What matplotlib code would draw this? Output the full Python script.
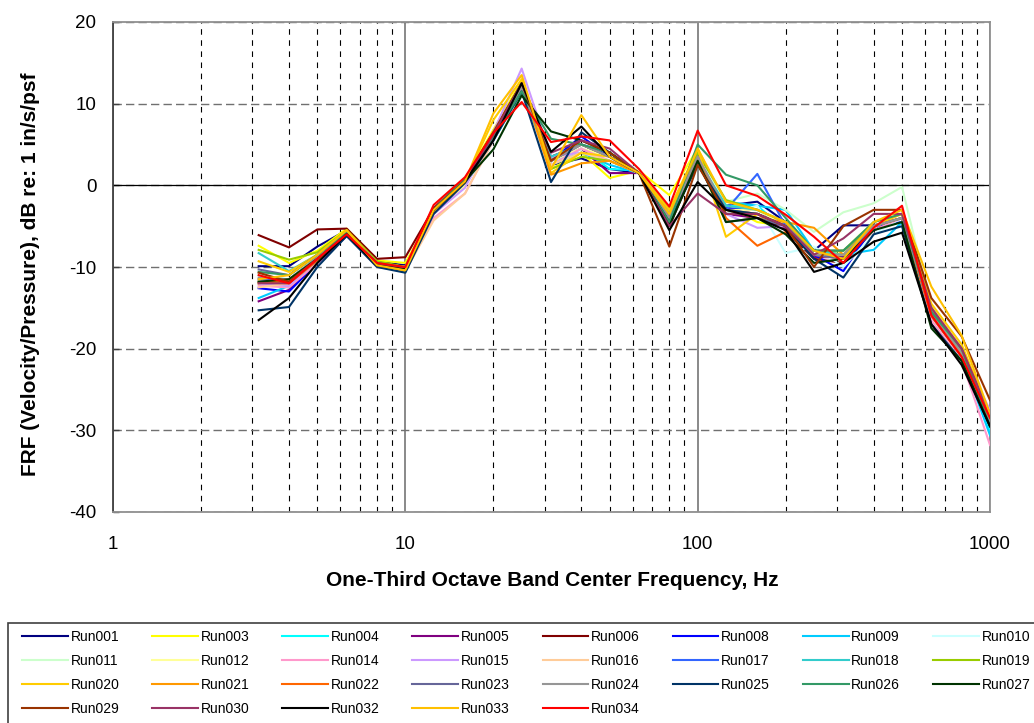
import matplotlib
matplotlib.use("Agg")
import matplotlib.pyplot as plt
from matplotlib.patches import Rectangle
from matplotlib.ticker import FixedLocator, FixedFormatter, NullFormatter

plt.rcParams['font.family'] = ['Liberation Sans', 'DejaVu Sans']

# One-third octave band centre frequencies (Hz)
freqs = [3.15, 4, 5, 6.3, 8, 10, 12.5, 16, 20, 25, 31.5, 40, 50, 63, 80,
         100, 125, 160, 200, 250, 315, 400, 500, 630, 800, 1000]

run_names = ["Run001", "Run003", "Run004", "Run005", "Run006", "Run008", "Run009", "Run010",
             "Run011", "Run012", "Run014", "Run015", "Run016", "Run017", "Run018", "Run019",
             "Run020", "Run021", "Run022", "Run023", "Run024", "Run025", "Run026", "Run027",
             "Run029", "Run030", "Run032", "Run033", "Run034"]

run_colors = ["#000080", "#FFFF00", "#00FFFF", "#800080", "#800000", "#0000FF", "#00CCFF", "#CCFFFF",
              "#CCFFCC", "#FFFF99", "#FF99CC", "#CC99FF", "#FFCC99", "#3366FF", "#33CCCC", "#99CC00",
              "#FFCC00", "#FF9900", "#FF6600", "#666699", "#969696", "#003366", "#339966", "#003300",
              "#993300", "#993366", "#000000", "#FFC000", "#FF0000"]

run001 = [-9.9, -9.9, -7.5, -5.5, -9.3, -9.8, -3.0, 0.5, 6.0, 12.0, 2.5, 3.3, 2.0, 1.5, -4.0, 4.0, -2.5, -2.0, -4.5, -8.0, -4.9, -4.9, -4.0, -15.0, -20.0, -28.0]
run003 = [-7.4, -9.5, -8.0, -5.3, -9.2, -9.5, -3.2, 0.8, 6.8, 12.8, 2.0, 4.0, 0.9, 1.8, -1.2, 4.5, -2.5, -4.5, -5.0, -8.5, -8.0, -4.5, -3.5, -15.0, -20.0, -28.0]
run004 = [-11.8, -12.5, -9.0, -6.0, -9.8, -10.3, -3.3, 0.3, 5.8, 11.8, 2.5, 4.5, 2.0, 1.8, -3.0, 3.5, -2.5, -2.5, -5.5, -8.0, -8.8, -5.5, -4.0, -15.5, -21.0, -30.0]
run005 = [-14.2, -12.8, -9.5, -6.0, -9.5, -10.0, -3.0, 0.2, 6.0, 12.2, 3.0, 4.5, 1.5, 1.5, -4.5, 3.0, -3.5, -4.0, -5.2, -8.8, -8.8, -5.5, -4.0, -15.5, -20.8, -29.0]
run006 = [-6.1, -7.6, -5.4, -5.3, -9.0, -8.8, -2.8, 0.8, 6.5, 12.5, 3.5, 5.0, 3.5, 1.5, -5.0, 3.0, -3.0, -3.5, -5.5, -9.0, -9.5, -5.5, -4.0, -15.5, -20.5, -28.5]
run008 = [-12.6, -13.0, -9.5, -6.2, -9.7, -10.2, -3.2, 0.3, 5.8, 11.8, 3.0, 6.0, 3.5, 1.5, -4.0, 3.5, -2.8, -3.0, -5.0, -8.5, -10.5, -5.0, -4.5, -16.0, -20.5, -29.0]
run009 = [-13.8, -12.3, -9.3, -6.0, -9.8, -10.3, -3.5, 0.0, 5.5, 11.5, 2.5, 4.0, 2.5, 1.5, -3.5, 3.0, -2.0, -2.5, -3.0, -8.0, -8.5, -7.9, -4.5, -16.0, -21.0, -30.6]
run010 = [-11.0, -11.5, -8.5, -5.8, -9.5, -10.0, -3.5, 0.0, 5.5, 11.5, 3.0, 4.5, 3.5, 2.0, -3.5, 2.5, -3.5, -2.5, -8.3, -7.5, -10.0, -6.0, -4.0, -15.0, -20.5, -29.5]
run011 = [-11.0, -11.8, -8.8, -6.0, -9.5, -10.0, -3.5, 0.3, 6.0, 12.0, 3.0, 4.5, 3.0, 1.5, -3.5, 3.5, -2.0, -1.0, -3.0, -5.7, -3.3, -2.2, -0.2, -15.0, -20.5, -29.0]
run012 = [-12.0, -11.5, -9.0, -5.8, -9.5, -10.2, -3.5, 0.0, 5.8, 12.2, 3.0, 4.5, 3.5, 1.8, -3.0, 3.0, -3.0, -3.0, -5.0, -8.5, -8.5, -5.0, -4.0, -15.0, -20.0, -28.5]
run014 = [-12.3, -12.5, -9.5, -6.0, -10.0, -10.3, -4.0, -1.0, 5.5, 12.5, 2.5, 4.5, 3.0, 1.5, -3.5, 3.5, -3.0, -3.5, -5.0, -8.5, -9.0, -5.5, -4.0, -16.5, -21.5, -31.8]
run015 = [-12.0, -12.3, -9.0, -6.0, -9.8, -10.2, -3.5, -0.3, 6.5, 14.3, 3.5, 4.0, 3.0, 1.5, -3.5, 3.5, -3.5, -5.2, -5.0, -8.5, -8.5, -5.0, -4.0, -15.0, -20.5, -27.5]
run016 = [-12.5, -12.0, -9.2, -6.0, -10.0, -10.5, -4.3, -1.0, 5.5, 12.0, 2.5, 4.0, 3.0, 1.5, -4.0, 3.0, -3.0, -3.5, -5.0, -8.5, -8.5, -5.0, -4.0, -15.5, -21.0, -29.0]
run017 = [-11.5, -11.8, -8.8, -5.8, -9.5, -10.2, -3.0, 0.5, 6.0, 12.0, 3.0, 5.0, 4.0, 1.5, -3.5, 3.5, -3.0, 1.4, -5.0, -8.0, -8.0, -5.0, -4.0, -15.0, -20.5, -29.0]
run018 = [-8.3, -10.5, -8.5, -5.8, -9.5, -10.0, -3.0, 0.8, 5.5, 11.5, 3.5, 5.0, 3.5, 1.5, -4.0, 3.0, -2.5, -3.0, -4.5, -8.0, -8.5, -5.0, -4.0, -15.5, -20.5, -29.5]
run019 = [-7.9, -9.1, -8.2, -5.5, -9.3, -10.0, -3.0, 0.5, 6.2, 12.5, 2.0, 3.5, 3.0, 1.5, -3.0, 4.0, -1.8, -3.0, -4.5, -8.0, -8.0, -5.0, -4.0, -15.0, -20.5, -28.5]
run020 = [-9.3, -10.6, -8.5, -5.5, -9.5, -10.5, -3.2, 0.5, 8.0, 13.0, 1.5, 4.0, 3.5, 1.5, -3.0, 4.5, -6.3, -3.5, -5.0, -8.5, -8.5, -5.0, -3.5, -14.5, -19.5, -28.0]
run021 = [-12.0, -11.5, -9.0, -6.0, -9.8, -10.4, -3.0, 0.5, 6.0, 12.5, 1.3, 2.7, 3.0, 1.5, -4.0, 3.0, -3.0, -4.0, -4.5, -5.2, -8.5, -5.0, -4.0, -15.5, -20.5, -29.0]
run022 = [-11.8, -12.0, -9.2, -6.0, -9.5, -10.2, -3.0, 0.5, 6.0, 12.0, 3.0, 5.0, 3.5, 1.5, -4.0, 3.5, -4.0, -7.4, -5.7, -8.5, -9.0, -5.0, -4.0, -16.0, -21.0, -29.0]
run023 = [-10.3, -11.0, -8.5, -5.8, -9.5, -10.2, -3.0, 0.5, 6.0, 12.0, 3.0, 5.0, 3.5, 1.5, -4.5, 3.0, -4.5, -4.0, -5.0, -8.5, -9.0, -5.0, -4.0, -15.5, -20.0, -28.5]
run024 = [-11.3, -11.5, -8.8, -5.8, -9.5, -10.2, -3.0, 0.5, 6.0, 12.0, 3.0, 5.0, 3.5, 1.5, -4.0, 3.5, -3.0, -3.5, -5.0, -8.5, -8.5, -5.0, -4.0, -15.5, -20.5, -29.0]
run025 = [-15.3, -14.9, -10.0, -6.2, -10.0, -10.7, -3.5, 0.3, 5.5, 11.5, 0.4, 6.5, 4.0, 1.5, -4.5, 2.5, -3.0, -3.5, -5.0, -9.0, -11.3, -6.0, -5.0, -17.0, -21.5, -29.5]
run026 = [-10.6, -11.0, -8.5, -5.8, -9.5, -10.2, -3.0, 0.8, 6.0, 11.5, 5.7, 5.0, 4.0, 1.5, -4.5, 5.0, 1.3, 0.0, -4.0, -8.0, -8.0, -4.5, -3.5, -15.5, -20.0, -29.5]
run027 = [-11.8, -11.5, -9.0, -6.0, -9.6, -10.2, -3.0, 0.5, 4.4, 11.0, 6.6, 5.5, 4.0, 1.5, -5.0, 3.0, -4.5, -4.0, -6.0, -9.5, -9.0, -5.5, -4.5, -17.5, -21.5, -29.5]
run029 = [-10.7, -11.8, -9.0, -6.0, -9.6, -10.2, -3.0, 0.5, 6.5, 12.5, 3.0, 5.5, 4.0, 1.5, -7.5, 2.5, -3.5, -3.5, -5.0, -10.0, -5.0, -3.0, -3.0, -13.8, -18.5, -26.3]
run030 = [-12.0, -12.0, -9.0, -6.0, -9.6, -10.2, -3.0, 0.5, 6.2, 12.5, 4.0, 5.5, 4.5, 1.5, -5.0, -1.0, -3.5, -3.5, -5.0, -8.5, -6.5, -3.5, -3.5, -15.0, -20.0, -28.0]
run032 = [-16.5, -13.8, -9.5, -6.0, -9.8, -10.3, -3.0, 0.5, 5.5, 12.5, 4.1, 7.2, 3.5, 1.5, -5.5, 0.4, -3.0, -4.0, -5.5, -10.6, -9.5, -6.9, -5.8, -17.0, -22.0, -29.5]
run033 = [-11.5, -11.0, -8.5, -5.5, -9.8, -10.4, -3.0, 0.5, 8.8, 13.5, 2.0, 8.6, 3.5, 1.5, -3.5, 4.5, -2.0, -3.0, -4.5, -8.0, -9.0, -4.5, -3.0, -12.4, -18.4, -28.0]
run034 = [-11.0, -12.0, -9.0, -6.0, -9.5, -10.0, -2.4, 1.0, 6.4, 10.2, 5.3, 6.0, 5.5, 2.0, -2.6, 6.7, 0.0, -1.3, -3.6, -6.3, -9.5, -5.2, -2.5, -15.9, -21.0, -28.5]

run_values = [run001, run003, run004, run005, run006, run008, run009, run010,
              run011, run012, run014, run015, run016, run017, run018, run019,
              run020, run021, run022, run023, run024, run025, run026, run027,
              run029, run030, run032, run033, run034]

x_major = [1, 10, 100, 1000]
x_major_labels = ["1", "10", "100", "1000"]
y_ticks = [-40, -30, -20, -10, 0, 10, 20]
y_tick_labels = ["-40", "-30", "-20", "-10", "0", "10", "20"]

W, H = 1034, 723
fig = plt.figure(figsize=(W / 100, H / 100), dpi=100)
ax = fig.add_axes([113 / W, 1 - 512 / H, (990 - 113) / W, (512 - 22) / H])

ax.set_xscale('log')
ax.set_xlim(1, 1000)
ax.set_ylim(-40, 20)

minor = [m * d for d in (1, 10, 100) for m in range(2, 10)]
ax.xaxis.set_major_locator(FixedLocator(x_major))
ax.xaxis.set_major_formatter(FixedFormatter(x_major_labels))
ax.xaxis.set_minor_locator(FixedLocator(minor))
ax.xaxis.set_minor_formatter(NullFormatter())
ax.yaxis.set_major_locator(FixedLocator(y_ticks))
ax.yaxis.set_major_formatter(FixedFormatter(y_tick_labels))

ax.set_axisbelow(True)
ax.grid(which='minor', axis='x', color='black', linestyle=(0, (5, 5)), linewidth=0.8)
ax.grid(which='major', axis='x', color='#808080', linestyle='-', linewidth=1.3)
ax.grid(which='major', axis='y', color='#707070', linestyle=(0, (6, 3)), linewidth=1.0)
ax.axhline(0, color='black', linewidth=0.9, zorder=1.5)

ax.tick_params(axis='x', which='both', length=0, pad=17, labelsize=13.5)
ax.tick_params(axis='y', which='major', direction='in', length=4, width=1,
               color='#404040', pad=12, labelsize=13.5)

for s in ('top', 'right', 'bottom'):
    ax.spines[s].set_color('#909090')
    ax.spines[s].set_linewidth(1.3)
ax.spines['left'].set_color('#404040')
ax.spines['left'].set_linewidth(1.3)

handles = []
for name, col, vals in zip(run_names, run_colors, run_values):
    ln, = ax.plot(freqs, vals, color=col, linewidth=1.5, label=name, zorder=3)
    handles.append(ln)

fig.text(552 / W, 1 - 580 / H, "One-Third Octave Band Center Frequency, Hz",
         ha='center', va='center', fontsize=15, fontweight='bold')
fig.text(31 / W, 1 - 274 / H, "FRF (Velocity/Pressure), dB re: 1 in/s/psf",
         ha='center', va='center', rotation=90, fontsize=15, fontweight='bold')

# legend: reorder so that it reads row by row with 8 columns
ncol = 8
n = len(handles)
order = []
for c in range(ncol):
    for r in range((n + ncol - 1) // ncol):
        i = r * ncol + c
        if i < n:
            order.append(i)
leg = fig.legend([handles[i] for i in order], [run_names[i] for i in order],
                 loc='upper left', bbox_to_anchor=(22 / W, 1 - 630 / H),
                 ncol=ncol, frameon=False, fontsize=10, borderpad=0,
                 handlelength=3.3, handletextpad=0.2, columnspacing=2.35,
                 labelspacing=0.72, borderaxespad=0)

fig.patches.append(Rectangle((8 / W, -0.05), 1.1, (1 - 623 / H) + 0.05,
                             transform=fig.transFigure, fill=False,
                             edgecolor='#404040', linewidth=1.2))

fig.savefig("out.png", dpi=100)
